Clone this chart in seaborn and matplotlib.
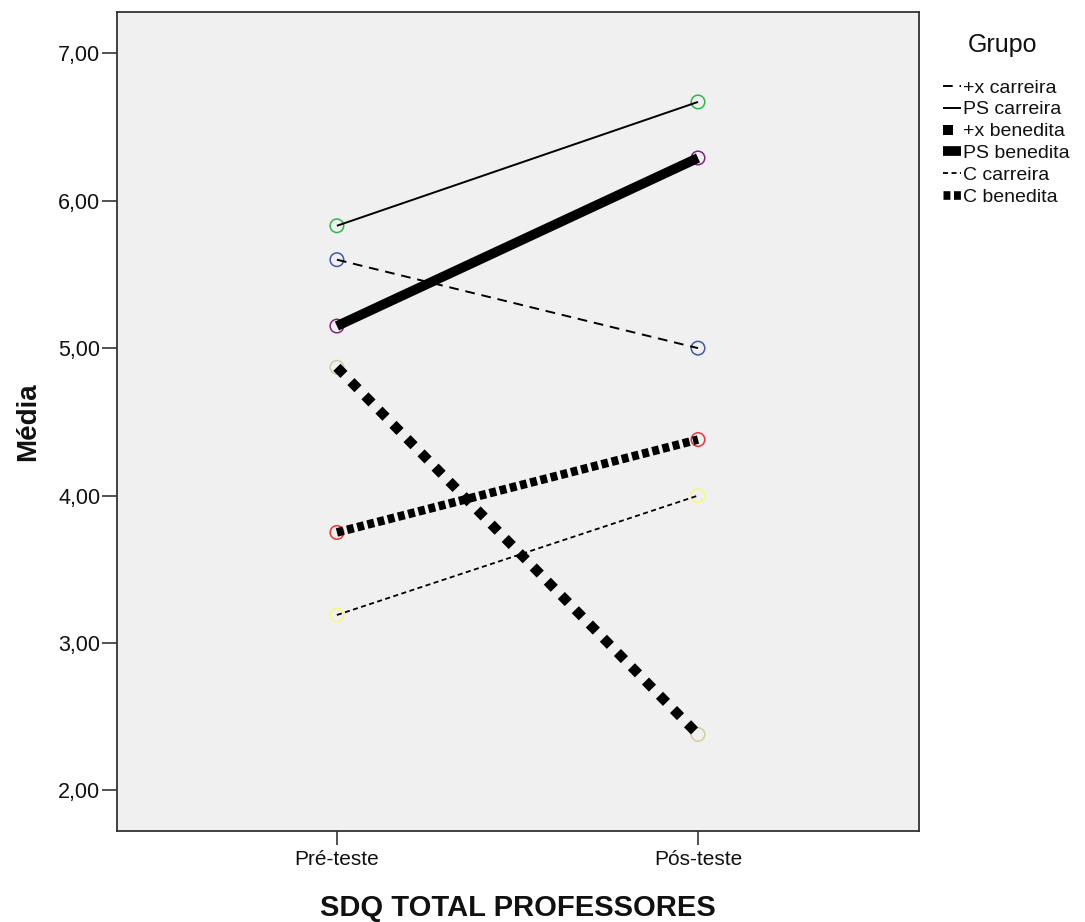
"""
Perfil de médias SDQ total (professores) — pré/pós-teste por grupo.
"""

import matplotlib
matplotlib.use("Agg")
import matplotlib.pyplot as plt
from matplotlib.lines import Line2D
import seaborn as sns
import pandas as pd

# ─── DADOS ────────────────────────────────────────────────────────────────────
momentos = ["Pré-teste", "Pós-teste"]
grupos = ["+x carreira", "PS carreira", "+x benedita", "PS benedita", "C carreira", "C benedita"]
pre = [5.60, 5.83, 4.87, 5.15, 3.19, 3.75]
pos = [5.00, 6.67, 2.38, 6.29, 4.00, 4.38]

# cores SPSS dos marcadores
cores = ["#3E58AC", "#2EB848", "#D3CE97", "#7C287D", "#FBF873", "#EF3338"]
estilos = {
    "+x carreira": dict(lw=1.4, dashes=(5, 3.5)),
    "PS carreira": dict(lw=1.4, dashes=()),
    "+x benedita": dict(lw=7.2, dashes=(1.0, 1.0)),
    "PS benedita": dict(lw=7.0, dashes=()),
    "C carreira": dict(lw=1.3, dashes=(2.8, 1.9)),
    "C benedita": dict(lw=6.2, dashes=(0.8, 0.42)),
}

df = pd.DataFrame({
    "Grupo": grupos * 2,
    "Momento": [momentos[0]] * len(grupos) + [momentos[1]] * len(grupos),
    "pos": [0] * len(grupos) + [1] * len(grupos),
    "Média": pre + pos,
})

# ─── FIGURA ───────────────────────────────────────────────────────────────────
sns.set_style("ticks")
plt.rcParams["font.family"] = ["Liberation Sans", "DejaVu Sans"]
plt.rcParams["text.color"] = "#111111"
plt.rcParams["axes.labelcolor"] = "#111111"
plt.rcParams["xtick.color"] = "#111111"
plt.rcParams["ytick.color"] = "#111111"

fig = plt.figure(figsize=(10.85, 9.22), dpi=100)
ax = fig.add_axes([117 / 1085, 1 - 831 / 922, (919 - 117) / 1085, (831 - 12) / 922])
ax.set_facecolor("#F0F0F0")

# marcadores (círculos vazios)
for g, c in zip(grupos, cores):
    sub = df[df["Grupo"] == g]
    sns.scatterplot(data=sub, x="pos", y="Média", ax=ax, marker="o", s=95,
                    facecolor="none", edgecolor=c, linewidth=1.1, zorder=2, legend=False)

# linhas
handles = []
for g in grupos:
    sub = df[df["Grupo"] == g]
    st = estilos[g]
    ln, = ax.plot(sub["pos"], sub["Média"], color="black", lw=st["lw"], zorder=3,
                  solid_capstyle="butt", dash_capstyle="butt")
    if st["dashes"]:
        ln.set_dashes(st["dashes"])
    h = Line2D([0], [0], color="black", lw=st["lw"], solid_capstyle="butt",
               dash_capstyle="butt")
    if st["dashes"]:
        h.set_dashes(st["dashes"])
    handles.append(h)

ax.set_xlim(-0.609, 1.612)
ax.set_ylim(1.725, 7.28)
ax.set_xticks([0, 1])
ax.set_xticklabels(momentos, fontsize=15)
ax.set_yticks([2, 3, 4, 5, 6, 7])
ax.set_yticklabels([f"{v:.2f}".replace(".", ",") for v in [2, 3, 4, 5, 6, 7]], fontsize=15.5)
ax.tick_params(axis="y", direction="out", length=11, width=1.2, color="#333333", pad=1,
               left=True)
ax.tick_params(axis="x", direction="out", length=10, width=1.2, color="#333333", pad=4,
               bottom=True)
for s in ax.spines.values():
    s.set_color("#333333")
    s.set_linewidth(1.3)
    s.set_visible(True)

ax.set_xlabel("SDQ TOTAL PROFESSORES", fontsize=21, fontweight="bold", labelpad=18)
ax.set_ylabel("Média", fontsize=20, fontweight="bold", labelpad=12)

# legenda (título à parte, como no SPSS)
fig.text(968 / 1085, 1 - 45 / 922, "Grupo", fontsize=18, ha="left", va="center")
leg = fig.legend(handles, grupos, loc="upper left",
                 bbox_to_anchor=(943 / 1085, 1 - 79 / 922), frameon=False,
                 fontsize=14, handlelength=0.9, handletextpad=0.15,
                 labelspacing=0.22, borderaxespad=0, borderpad=0)

fig.savefig("out.png", dpi=100, facecolor="white")
